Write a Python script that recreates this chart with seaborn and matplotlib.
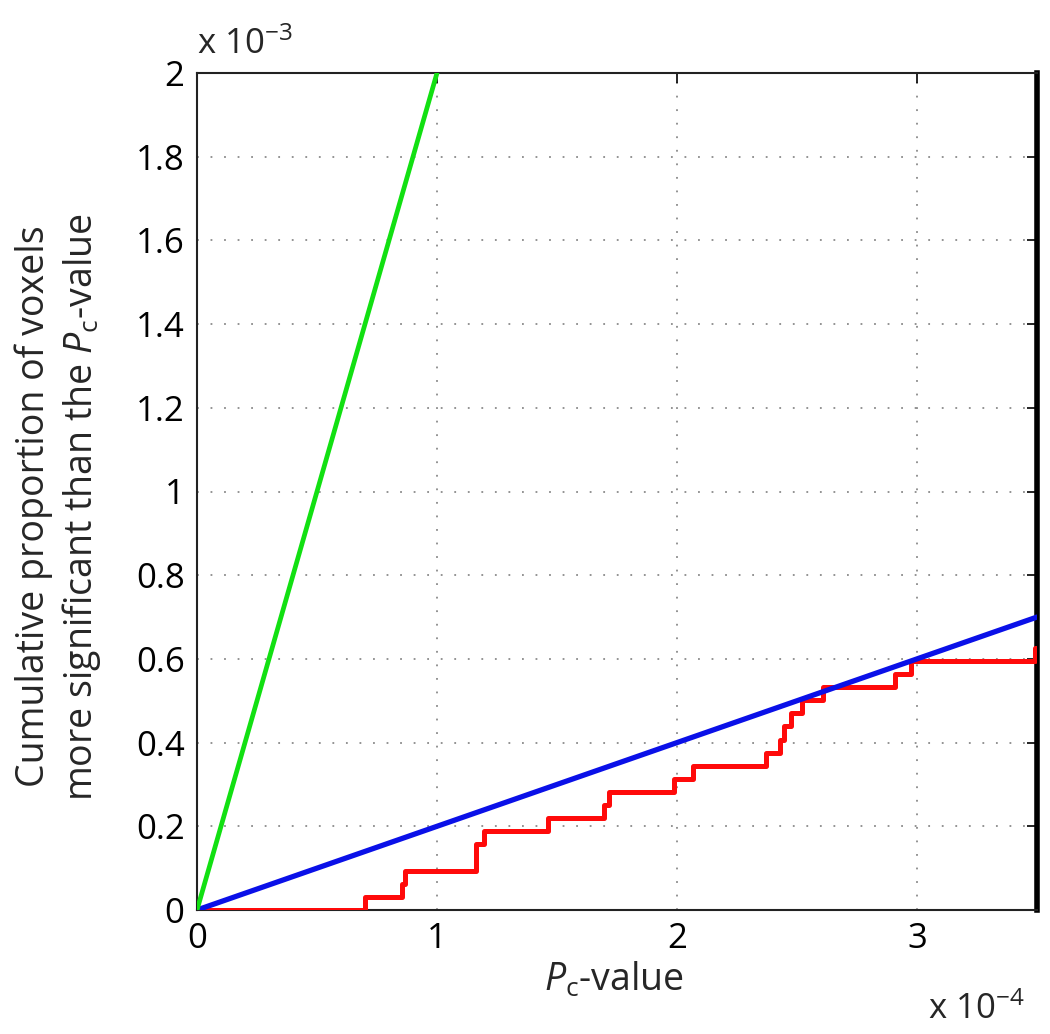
import numpy as np
import pandas as pd
import matplotlib
matplotlib.use("Agg")
import matplotlib.pyplot as plt
import seaborn as sns

# data (x in units of 1e-4, y in units of 1e-3)
green_x = [0.0, 1.0]
green_y = [0.0, 2.0]
blue_x = [0.0, 3.5]
blue_y = [0.0, 0.7]
red_x = [0.0, 0.70, 0.855, 0.868, 1.164, 1.197, 1.464, 1.694, 1.715, 1.986,
         2.065, 2.37, 2.43, 2.445, 2.474, 2.52, 2.61, 2.91, 2.975, 3.49, 3.5]
red_y = [0.0, 0.031, 0.063, 0.094, 0.157, 0.188, 0.219, 0.251, 0.282, 0.313,
         0.345, 0.376, 0.407, 0.439, 0.470, 0.501, 0.533, 0.564, 0.596, 0.627, 0.627]
x_ticks = [0, 1, 2, 3]
y_ticks = [0, 0.2, 0.4, 0.6, 0.8, 1, 1.2, 1.4, 1.6, 1.8, 2]

sns.set_theme(style="white")
plt.rcParams['font.family'] = ['Open Sans', 'DejaVu Sans']
plt.rcParams['mathtext.fontset'] = 'custom'
plt.rcParams['mathtext.rm'] = 'Open Sans'
plt.rcParams['mathtext.it'] = 'Open Sans:italic'

fig = plt.figure(figsize=(10.5, 10.34), dpi=100)
ax = fig.add_axes([197/1050, 1-910/1034, (1037-197)/1050, (910-73)/1034])

df_r = pd.DataFrame({"x": red_x, "y": red_y})
df_g = pd.DataFrame({"x": green_x, "y": green_y})
df_b = pd.DataFrame({"x": blue_x, "y": blue_y})

sns.lineplot(data=df_r, x="x", y="y", ax=ax, color="#ff0a0a", lw=3.6,
             drawstyle="steps-post", estimator=None, sort=False, zorder=3)
sns.lineplot(data=df_b, x="x", y="y", ax=ax, color="#0a10e8", lw=3.8,
             estimator=None, sort=False, zorder=4)
sns.lineplot(data=df_g, x="x", y="y", ax=ax, color="#12e012", lw=3.4,
             estimator=None, sort=False, zorder=4)

ax.set_xlim(0, 3.5)
ax.set_ylim(0, 2)
ax.set_xticks(x_ticks)
ax.set_yticks(y_ticks)
ax.set_xticklabels([f"{v:g}" for v in x_ticks])
ax.set_yticklabels([f"{v:g}" for v in y_ticks])
ax.tick_params(direction="in", length=7, width=1.2, top=True, right=True,
               labelsize=25, colors="black", pad=9)
ax.grid(True, color="#8a8a8a", linestyle=(0, (1, 6.5)), linewidth=1.3)
for s in ["left", "bottom", "top"]:
    ax.spines[s].set_color("#222222")
    ax.spines[s].set_linewidth(1.5)
ax.spines["right"].set_color("black")
ax.spines["right"].set_linewidth(4)
ax.set_xlabel("")
ax.set_ylabel("")

fig.text(0.585, 1-980/1034, r"$\mathit{P}_{\mathrm{c}}$-value", ha="center", va="center",
         fontsize=27)
fig.text(0.056, 0.5 + 0.01, "Cumulative proportion of voxels\nmore significant than the $\\mathit{P}_{\\mathrm{c}}$-value",
         rotation=90, ha="center", va="center", fontsize=27, linespacing=1.2)
fig.text(928/1050, 1-1010/1034, r"x 10$^{\mathrm{-4}}$", ha="left", va="center", fontsize=25)
fig.text(197/1050, 1-45/1034, r"x 10$^{\mathrm{-3}}$", ha="left", va="center", fontsize=25)

fig.savefig("out.png", dpi=100, facecolor="white")
